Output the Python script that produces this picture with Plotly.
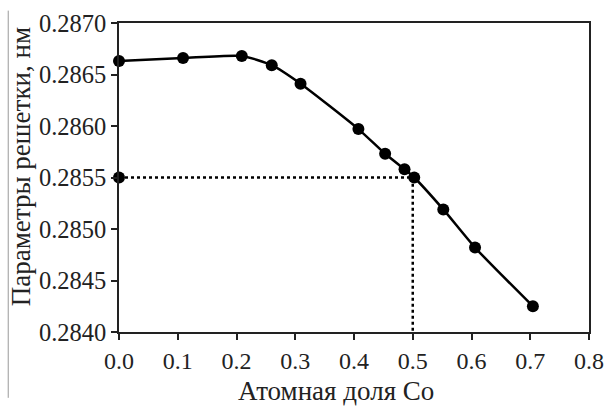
import plotly.graph_objects as go

# Data
co_fraction = [0.0, 0.109, 0.209, 0.26, 0.309, 0.4075, 0.453, 0.486, 0.5025, 0.552, 0.606, 0.7045]
lattice_nm = [0.28663, 0.28666, 0.28668, 0.28659, 0.28641, 0.28597, 0.28573, 0.28558, 0.28550, 0.28519, 0.28482, 0.28425]

ref_x = 0.5
ref_y = 0.2855
x_axis_min = 0.0
y_axis_min = 0.2840

x_ticks = [0.0, 0.1, 0.2, 0.3, 0.4, 0.5, 0.6, 0.7, 0.8]
y_ticks = [0.2840, 0.2845, 0.2850, 0.2855, 0.2860, 0.2865, 0.2870]

x_title = "Атомная доля Co"
y_title = "Параметры решетки, нм"

font_family = "Liberation Serif, Times New Roman, serif"

fig = go.Figure()

# Dotted guide lines
fig.add_trace(go.Scatter(
    x=[x_axis_min, ref_x, ref_x], y=[ref_y, ref_y, y_axis_min],
    mode="lines", line=dict(color="black", width=2.5, dash="dot"),
    hoverinfo="skip", showlegend=False, cliponaxis=False,
))
fig.add_trace(go.Scatter(
    x=[x_axis_min], y=[ref_y], mode="markers",
    marker=dict(color="black", size=12), showlegend=False, cliponaxis=False,
))

# Main curve
fig.add_trace(go.Scatter(
    x=co_fraction, y=lattice_nm, mode="lines+markers",
    line=dict(color="black", width=2.5, shape="spline", smoothing=0.6),
    marker=dict(color="black", size=12), showlegend=False, cliponaxis=False,
))

fig.update_layout(
    width=605, height=406,
    margin=dict(l=119, r=16, t=23, b=74),
    paper_bgcolor="white", plot_bgcolor="white",
    font=dict(family=font_family, size=24, color="#222"),
    shapes=[dict(type="line", xref="paper", yref="paper",
                 x0=-0.2357, x1=-0.2357, y0=1.04, y1=-0.213,
                 line=dict(color="#999", width=1))],
    annotations=[
        dict(text=x_title, xref="paper", yref="paper", x=0.462, y=-0.192,
             xanchor="center", yanchor="middle", showarrow=False,
             font=dict(size=27)),
        dict(text=y_title, xref="paper", yref="paper", x=-0.208, y=0.534,
             xanchor="center", yanchor="middle", showarrow=False, textangle=-90,
             font=dict(size=27)),
    ],
)
fig.update_xaxes(
    range=[0, 0.8], tickvals=x_ticks, ticktext=[f"{v:.1f}" for v in x_ticks],
    showgrid=False, zeroline=False, showline=True, linecolor="#222", linewidth=1.5,
    mirror=True, ticks="outside", ticklen=6, tickwidth=1.5, tickcolor="#222",
    automargin=False, ticklabeloverflow="allow", tickfont=dict(size=24),
)
fig.update_yaxes(
    range=[0.2840, 0.2870], tickvals=y_ticks, ticktext=[f"{v:.4f}" for v in y_ticks],
    showgrid=False, zeroline=False, showline=True, linecolor="#222", linewidth=1.5,
    mirror=True, ticks="outside", ticklen=6, tickwidth=1.5, tickcolor="#222",
    automargin=False, ticklabeloverflow="allow", tickfont=dict(size=24.5),
)

fig.write_html("out.html", config={"displayModeBar": False},
               post_script="document.body.style.margin='0px';document.body.style.overflow='hidden';")
